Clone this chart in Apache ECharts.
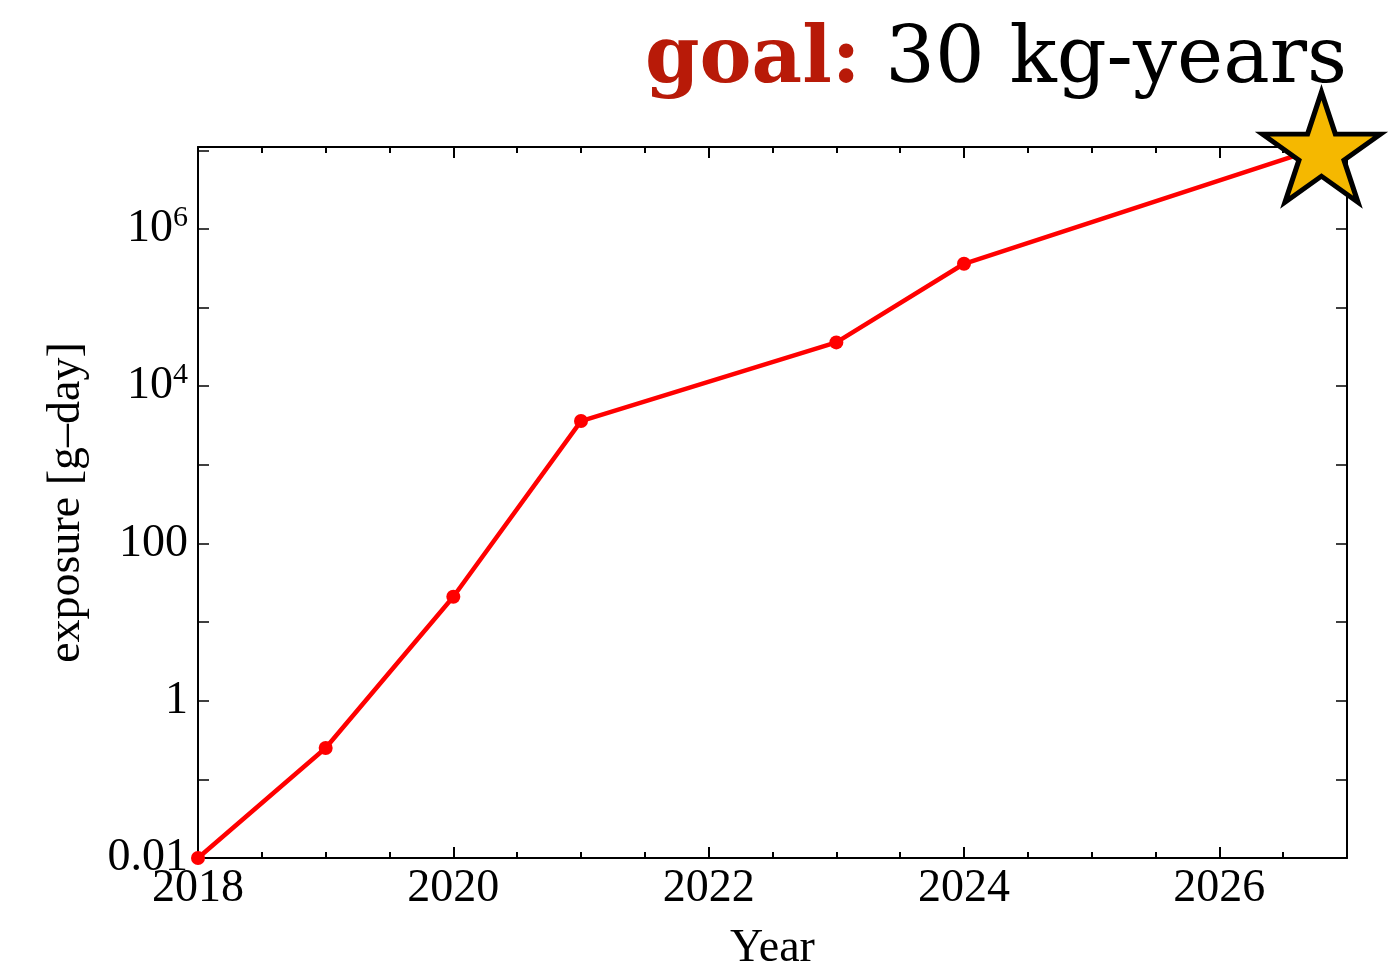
<!DOCTYPE html>
<html>
<head>
<meta charset="utf-8">
<script src="https://cdn.jsdelivr.net/npm/echarts@6/dist/echarts.min.js"></script>
<style>
  html, body { margin: 0; padding: 0; background: #fff; }
  #chart-container { width: 1394px; height: 968px; }
</style>
</head>
<body>
<div id="chart-container"></div>
<script>
// data
var years = [2018, 2019, 2020, 2021, 2023, 2024, 2026.8];
var exposure = [0.01, 0.25, 21, 3600, 36000, 360000, 1.095e7];
var goalLabel = 'goal:';
var goalText = '30 kg-years';
var xName = 'Year';
var yName = 'exposure [g\u2013day]';

var yMin = 0.01, yMax = 1.1e7;
var xMin = 2018, xMax = 2027;

// five pointed star for the goal marker
function starPath() {
  var pts = [];
  for (var k = 0; k < 10; k++) {
    var r = k % 2 === 0 ? 1 : 0.382;
    var a = (-90 + k * 36) * Math.PI / 180;
    pts.push((r * Math.cos(a)).toFixed(4) + ' ' + (r * Math.sin(a)).toFixed(4));
  }
  return 'path://M' + pts.join(' L') + ' Z';
}

var serif = '"Liberation Serif", "Times New Roman", serif';

function yLabel(v) {
  var e = Math.round(Math.log(v) / Math.LN10);
  if (e % 2 !== 0 || e < -2 || e > 6) return '';
  if (e === -2) return '0.01';
  if (e === 0) return '1';
  if (e === 2) return '100';
  return '{b|10}{s|' + e + '}';
}

var seriesData = years.map(function (y, i) {
  var item = { value: [y, exposure[i]] };
  if (i === years.length - 1) {
    item.symbol = starPath();
    item.symbolSize = [118, 110];
    item.itemStyle = { color: '#f5b800', borderColor: '#000', borderWidth: 5 };
  }
  return item;
});

function xAx(pos, interval, len, labels) {
  return {
    type: 'value', position: pos, min: xMin, max: xMax, interval: interval,
    axisLine: { show: labels, onZero: false, lineStyle: { color: '#000', width: 2 } },
    axisTick: { inside: true, length: len, lineStyle: { color: '#000', width: 2 } },
    axisLabel: {
      show: labels && pos === 'bottom', margin: 8, fontFamily: serif, fontSize: 46, color: '#000',
      showMaxLabel: false,
      formatter: function (v) { return v < xMax ? String(v) : ''; }
    },
    splitLine: { show: false },
    name: labels && pos === 'bottom' ? xName : '',
    nameLocation: 'middle', nameGap: 68,
    nameTextStyle: { fontFamily: serif, fontSize: 46, color: '#000' }
  };
}

function yAx(pos, split, len, labels) {
  return {
    type: 'log', logBase: 10, position: pos, min: yMin, max: yMax, splitNumber: split,
    axisLine: { show: labels, onZero: false, lineStyle: { color: '#000', width: 2 } },
    axisTick: { inside: true, length: len, lineStyle: { color: '#000', width: 1.5 } },
    axisLabel: {
      show: labels && pos === 'left', margin: 10, fontFamily: serif, fontSize: 46, color: '#000',
      showMaxLabel: false,
      formatter: yLabel,
      rich: {
        b: { fontFamily: serif, fontSize: 46, color: '#000' },
        s: { fontFamily: serif, fontSize: 30, color: '#000', padding: [0, 0, 22, 0] }
      }
    },
    splitLine: { show: false },
    name: labels && pos === 'left' ? yName : '',
    nameLocation: 'middle', nameGap: 108, nameRotate: 90,
    nameTextStyle: { fontFamily: serif, fontSize: 46, color: '#000' }
  };
}

var dom = document.getElementById('chart-container');
var myChart = echarts.init(dom, null, { renderer: 'canvas' });

var option = {
  backgroundColor: '#fff',
  animation: false,
  title: {
    text: '{g|' + goalLabel + '}{t| ' + goalText + '}',
    right: 42, top: 18,
    textStyle: {
      rich: {
        g: { fontFamily: '"DejaVu Serif", serif', fontWeight: 'bold', fontSize: 78, color: '#b81a08' },
        t: { fontFamily: '"DejaVu Serif", serif', fontWeight: 'normal', fontSize: 78, color: '#000' }
      }
    }
  },
  grid: { left: 198, right: 47, top: 147, bottom: 110, containLabel: false, outerBoundsMode: 'none' },
  xAxis: [
    xAx('bottom', 2, 11, true),
    xAx('bottom', 0.5, 6, false),
    xAx('top', 2, 11, true),
    xAx('top', 0.5, 6, false)
  ],
  yAxis: [
    yAx('left', 5, 11, true),
    yAx('left', 10, 6, false),
    yAx('right', 5, 11, true),
    yAx('right', 10, 6, false)
  ],
  series: [{
    type: 'line',
    xAxisIndex: 0, yAxisIndex: 0,
    data: seriesData,
    clip: false,
    symbol: 'circle', symbolSize: 14,
    lineStyle: { color: '#ff0000', width: 4.5 },
    itemStyle: { color: '#ff0000' },
    z: 5
  }]
};

myChart.setOption(option);
window.addEventListener('resize', myChart.resize);
</script>
</body>
</html>
